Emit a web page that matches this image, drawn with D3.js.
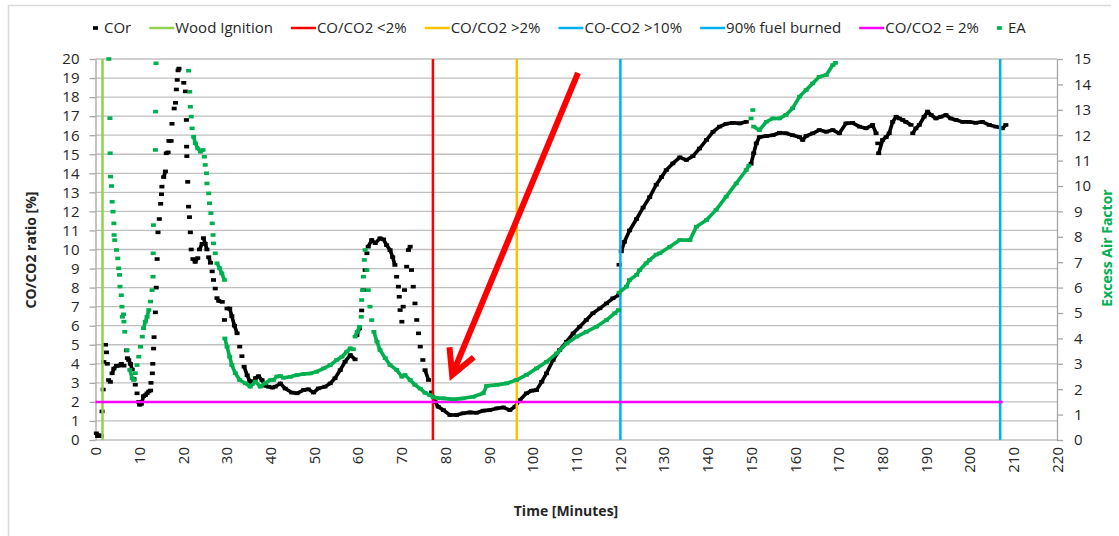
<!DOCTYPE html>
<html>
<head>
<meta charset="utf-8">
<script src="https://cdn.jsdelivr.net/npm/d3@7"></script>
<style>
  body { margin: 0; background: #fff; }
  text { font-family: "Open Sans", "Liberation Sans", sans-serif; }
</style>
</head>
<body>
<div id="chart"></div>
<script>
// COr (CO/CO2 ratio, left axis) as [minutes, percent]
var corData = [
  [0.2,0.35],[0.5,0.2],[0.9,0.25],[1.3,0.2],[1.5,1.5],[1.75,2.65],[1.9,4.1],[2.3,5.0],[2.5,4.6],[2.7,4.0],
  [3.0,3.15],[3.4,3.05],[3.8,3.5],[4.2,3.75],[4.8,3.9],[5.3,3.9],[5.9,4.0],[6.5,3.9],[7.1,4.7],[7.3,4.3],
  [7.6,4.2],[8.0,4.0],[8.4,3.7],[8.8,3.2],[9.1,2.9],[9.5,2.45],[9.9,2.0],[10.1,1.85],[10.5,1.9],[11.0,2.3],
  [11.4,2.35],[11.8,2.45],[12.2,2.55],[12.6,2.6],[12.7,3.0],[13.0,3.5],[13.1,4.0],[13.3,4.8],[13.4,5.4],[13.7,6.7],
  [13.9,8.0],[14.1,9.5],[14.3,10.9],[14.6,11.6],[14.9,12.4],[15.1,12.9],[15.2,13.3],[15.6,13.8],[16.0,14.1],[16.2,15.05],
  [16.6,15.1],[16.8,15.7],[17.3,15.7],[17.5,16.6],[18.0,17.4],[18.3,17.7],[18.5,18.4],[18.7,18.9],[18.9,19.4],[19.1,19.5],
  [20.2,18.75],[20.6,18.3],[20.8,16.8],[20.85,15.4],[20.9,14.9],[21.1,13.55],[21.3,12.25],[21.5,11.7],[21.7,10.9],[21.9,10.0],
  [22.3,9.5],[22.8,9.35],[23.4,9.55],[23.8,10.0],[24.4,10.3],[24.7,10.6],[25.1,10.3],[25.5,10.0],[25.9,9.6],[26.3,9.3],
  [26.7,8.85],[27.0,8.4],[27.4,7.95],[27.8,7.45],[28.2,7.3],[29.0,7.25],[29.5,6.3],[30.1,6.9],[30.7,6.9],[31.2,6.5],
  [31.8,6.0],[32.4,5.6],[33.0,4.9],[33.5,4.4],[34.0,3.85],[34.7,3.4],[35.3,3.1],[35.8,2.95],[36.6,3.25],[37.3,3.35],
  [38.1,3.15],[38.8,2.85],[39.6,2.8],[40.5,2.75],[41.1,2.8],[42.3,2.97],[43.4,2.7],[44.9,2.49],[46.1,2.45],[47.6,2.62],
  [48.7,2.66],[49.9,2.49],[51.0,2.71],[52.5,2.8],[53.7,2.97],[54.8,3.24],[56.0,3.67],[57.1,4.11],[58.3,4.46],[59.4,4.23],
  [59.8,5.5],[60.4,5.86],[60.9,6.8],[61.3,7.87],[61.7,8.92],[62.1,9.8],[62.4,10.15],[63.2,10.5],[64.0,10.33],[65.1,10.59],
  [65.9,10.53],[66.6,10.23],[67.4,9.97],[68.0,9.6],[68.5,9.19],[68.9,8.57],[69.3,8.05],[69.5,7.52],[69.7,6.82],[70.1,6.21],
  [70.4,7.0],[70.7,7.87],[71.2,9.1],[71.6,9.97],[72.0,10.15],[72.3,8.92],[72.7,8.05],[73.1,7.17],[73.5,6.3],[73.9,5.6],
  [74.3,4.9],[74.9,4.2],[75.4,3.67],[76.2,3.15],[76.9,2.5],[77.7,2.0],[78.4,1.75],[79.6,1.57],[81.1,1.31],[82.6,1.31],
  [84.1,1.4],[85.7,1.45],[87.2,1.43],[88.7,1.54],[90.2,1.57],[91.8,1.66],[93.3,1.71],[94.8,1.57],[96.0,1.75],[97.1,2.1],
  [98.6,2.45],[99.8,2.59],[100.9,2.62],[102.1,3.06],[103.2,3.5],[104.7,4.2],[106.2,4.72],[107.8,5.16],[109.3,5.6],[110.8,5.95],
  [112.3,6.3],[113.8,6.65],[115.4,6.91],[116.9,7.17],[118.4,7.44],[119.7,7.6],
  [119.8,9.2],[120.3,9.9],[121.0,10.4],[122.2,11.0],[123.8,11.6],[125.3,12.2],[126.8,12.75],[128.3,13.4],[129.5,13.8],[130.6,14.17],
  [132.1,14.52],[133.7,14.84],[135.2,14.7],[136.7,14.9],[138.2,15.3],[139.8,15.75],[141.3,16.18],[142.8,16.45],[144.3,16.6],[145.8,16.65],
  [147.4,16.62],[148.9,16.7],
  [150.0,14.5],[150.6,15.05],[151.2,15.57],[151.9,15.9],[153.5,15.96],[155.0,16.0],[156.5,16.13],[158.0,16.1],[159.5,16.0],[161.1,15.9],
  [161.8,15.75],[162.6,15.96],[164.1,16.1],[165.6,16.27],[167.2,16.18],[168.7,16.27],[170.2,16.1],[171.7,16.62],[173.2,16.65],[174.8,16.45],
  [176.3,16.36],[177.8,16.54],[178.6,16.1],[179.0,15.57],[179.2,15.05],[180.1,15.75],[180.9,15.9],[181.6,16.1],[182.4,16.7],[183.2,16.97],
  [183.9,16.88],[184.7,16.8],[185.4,16.7],[186.6,16.54],[187.0,16.1],[187.7,16.36],[188.5,16.54],[189.6,16.97],[190.4,17.24],[191.2,17.06],
  [192.3,16.88],[193.4,16.97],[194.6,17.06],[195.7,16.88],[196.9,16.8],[198.4,16.7],[199.9,16.7],[201.4,16.65],[202.9,16.7],[204.5,16.54],
  [206.0,16.45],[207.5,16.36],[208.3,16.54]
];

// EA (excess air factor, right axis) as [minutes, factor]
var eaData = [
  [3.05,15.0],[3.3,12.67],[3.35,11.29],[3.45,10.37],[3.66,10.0],[3.8,9.38],[4.0,8.99],[4.2,8.53],[4.25,8.07],[4.4,7.87],
  [4.8,7.48],[5.1,7.15],[5.3,6.76],[5.5,6.5],[5.6,6.04],[5.9,5.7],[6.05,5.25],[6.15,4.85],[6.4,4.95],[6.5,4.66],
  [6.7,4.26],[7.2,3.54],[7.85,2.76],[8.4,2.43],[8.75,2.36],[9.1,2.63],[9.5,2.95],[9.9,3.28],[10.3,3.67],[10.7,4.07],
  [11.0,4.4],[11.4,4.66],[11.8,4.85],[12.2,5.12],[12.6,5.45],[12.95,5.9],[13.15,6.43],[13.2,7.35],[13.25,8.46],[13.7,11.42],
  [13.75,12.93],[13.85,14.83],
  [21.3,14.54],[21.55,13.71],[21.7,13.12],[21.9,12.73],[22.1,12.27],[22.45,11.94],[22.85,11.68],[23.4,11.48],[24.0,11.35],[24.6,11.42],
  [24.9,11.15],[25.1,10.83],[25.4,10.5],[25.5,10.1],[25.9,9.71],[26.1,9.32],[26.4,8.93],[26.7,8.53],[26.9,8.07],[27.0,7.74],
  [27.4,7.35],[27.8,6.96],[28.4,6.76],[28.9,6.56],[29.5,6.3],
  [29.6,4.0],[30.1,3.67],[30.7,3.28],[31.2,2.95],[32.0,2.63],[33.0,2.36],[34.3,2.23],[35.4,2.1],[36.6,2.3],[37.7,2.1],
  [38.8,2.23],[40.0,2.36],[40.7,2.36],[41.5,2.5],[42.3,2.52],[43.0,2.45],[44.6,2.49],[46.1,2.56],[47.6,2.6],[49.1,2.62],
  [50.6,2.69],[52.2,2.82],[53.7,2.95],[55.2,3.15],[56.4,3.28],[57.5,3.48],[58.3,3.61],[59.0,3.57],[59.4,4.07],[59.9,4.26],
  [60.4,4.46],[60.8,4.85],[60.9,5.51],[61.1,5.9],[61.3,6.43],[61.5,7.09],[61.7,7.48],[62.1,6.69],[62.4,5.9],[62.8,5.25],
  [63.2,4.72],[63.7,4.26],[64.4,3.87],[65.1,3.54],[66.3,3.22],[67.4,2.95],[68.9,2.76],[70.1,2.49],[70.8,2.56],[72.0,2.36],
  [73.1,2.17],[74.3,2.02],[75.4,1.86],[76.5,1.77],[77.3,1.68],[78.1,1.66],[79.6,1.64],[81.9,1.6],[84.1,1.64],[86.4,1.7],
  [88.7,1.84],[89.5,2.13],[91.8,2.17],[94.1,2.23],[96.3,2.36],[98.6,2.56],[100.9,2.82],[103.2,3.08],[105.5,3.41],[107.8,3.8],
  [110.1,4.07],[112.3,4.26],[114.6,4.46],[116.9,4.72],[118.8,4.99],[119.7,5.12],
  [119.8,5.8],[121.5,6.04],[122.2,6.3],[123.8,6.5],[124.5,6.69],[126.0,6.96],[126.8,7.09],[128.3,7.3],[129.1,7.35],[131.4,7.61],
  [133.7,7.87],[136.0,7.87],[137.5,8.4],[139.8,8.66],[142.0,9.06],[144.3,9.58],[146.6,10.1],[148.9,10.63],[149.5,10.8],
  [150.0,12.66],[150.4,12.99],[150.6,12.34],[151.9,12.2],[153.5,12.53],[155.0,12.66],[156.5,12.66],[158.0,12.8],[159.5,13.06],[161.1,13.52],
  [162.6,13.78],[164.1,14.04],[165.6,14.3],[167.2,14.37],[168.7,14.76],[169.3,14.85]
];

// event lines (minutes) and the 2% threshold
var eventNames = ["Wood Ignition", "CO/CO2 <2%", "CO/CO2 >2%", "CO-CO2 >10%", "90% fuel burned"];
var eventTimes = [1.6, 77.2, 96.4, 120.1, 207.0];
var thresholdValue = 2;
var thresholdSpan = [0, 207.6];

// annotation arrow: [minutes, percent] tail and tip
var arrowTail = [110.4, 19.27];
var arrowTip = [81.6, 3.41];

var xTicks = [0,10,20,30,40,50,60,70,80,90,100,110,120,130,140,150,160,170,180,190,200,210,220];
var leftTicks = [0,1,2,3,4,5,6,7,8,9,10,11,12,13,14,15,16,17,18,19,20];
var rightTicks = [0,1,2,3,4,5,6,7,8,9,10,11,12,13,14,15];

var legendNames = ["COr", "Wood Ignition", "CO/CO2 <2%", "CO/CO2 >2%", "CO-CO2 >10%", "90% fuel burned", "CO/CO2 = 2%", "EA"];

var eventColors = ["#92d050", "#ff0000", "#ffc000", "#00b0f0", "#00b0f0"];
var legendColors = ["#000000", "#92d050", "#ff0000", "#ffc000", "#00b0f0", "#00b0f0", "#ff00ff", "#00b050"];
var legendKinds = ["marker", "line", "line", "line", "line", "line", "line", "marker"];

var svg = d3.select("#chart").append("svg").attr("width", 1119).attr("height", 536);

var x = d3.scaleLinear().domain([0, 220]).range([95.5, 1057]);
var yL = d3.scaleLinear().domain([0, 20]).range([440, 59]);
var yR = d3.scaleLinear().domain([0, 15]).range([440, 59]);

// outer frame
svg.append("path").attr("d", "M8.5,540V5.5H1111").attr("fill", "none").attr("stroke", "#d9d9d9").attr("stroke-width", 1.5);

// gridlines
svg.append("g").selectAll("line").data(leftTicks).enter().append("line")
    .attr("x1", x(0)).attr("x2", x(220))
    .attr("y1", d => yL(d)).attr("y2", d => yL(d))
    .attr("stroke", "#bfbfbf").attr("stroke-width", 1.3);

// axes
function styleAxis(g) {
    g.select(".domain").attr("stroke", "#a6a6a6").attr("stroke-width", 1.3);
    g.selectAll(".tick line").attr("stroke", "#a6a6a6").attr("stroke-width", 1.3);
    g.selectAll("text").attr("fill", "#262626").style("font-size", "15px");
}

svg.append("g").attr("transform", "translate(" + x(0) + ",0)")
    .call(d3.axisLeft(yL).tickValues(leftTicks).tickSize(6).tickPadding(10).tickSizeOuter(0))
    .call(styleAxis);

svg.append("g").attr("transform", "translate(" + x(220) + ",0)")
    .call(d3.axisRight(yR).tickValues(rightTicks).tickSize(6).tickPadding(11).tickSizeOuter(0))
    .call(styleAxis);

var xAxis = svg.append("g").attr("transform", "translate(0," + yL(0) + ")")
    .call(d3.axisBottom(x).tickValues(xTicks).tickSize(0).tickSizeOuter(0))
    .call(styleAxis);
xAxis.select(".domain").remove();
xAxis.selectAll("text")
    .attr("transform", "rotate(-90)")
    .attr("x", -7).attr("y", 0).attr("dy", "0.35em")
    .attr("text-anchor", "end");

// split a series into runs that read as a continuous trace
function runs(data, y) {
    var out = [], cur = [data[0]];
    for (var i = 1; i < data.length; i++) {
        var a = data[i - 1], b = data[i];
        var dx = Math.abs(x(b[0]) - x(a[0])), dy = Math.abs(y(b[1]) - y(a[1]));
        if (b[0] - a[0] < 2.5 && dy <= 4 * Math.max(dx, 0.5) && dy < 14) cur.push(b);
        else { out.push(cur); cur = [b]; }
    }
    out.push(cur);
    return out.filter(r => r.length > 1);
}

function drawSeries(data, y, color) {
    var g = svg.append("g");
    var line = d3.line().x(d => x(d[0])).y(d => y(d[1]));
    g.selectAll("path").data(runs(data, y)).enter().append("path")
        .attr("d", line).attr("fill", "none").attr("stroke", color)
        .attr("stroke-width", 3.6).attr("stroke-linejoin", "round");
    g.selectAll("rect").data(data).enter().append("rect")
        .attr("x", d => x(d[0]) - 2.5).attr("y", d => y(d[1]) - 1.8)
        .attr("width", 5).attr("height", 3.6).attr("fill", color);
}

drawSeries(corData, yL, "#000000");

// event lines
svg.append("g").selectAll("line").data(eventTimes).enter().append("line")
    .attr("x1", d => x(d)).attr("x2", d => x(d))
    .attr("y1", yL(0)).attr("y2", yL(20))
    .attr("stroke", (d, i) => eventColors[i]).attr("stroke-width", 2.5);

// 2% threshold
svg.append("line")
    .attr("x1", x(thresholdSpan[0])).attr("x2", x(thresholdSpan[1]))
    .attr("y1", yL(thresholdValue)).attr("y2", yL(thresholdValue))
    .attr("stroke", "#ff00ff").attr("stroke-width", 2.5);

drawSeries(eaData, yR, "#00b050");

// arrow annotation
var tx = x(arrowTail[0]), ty = yL(arrowTail[1]), hx = x(arrowTip[0]), hy = yL(arrowTip[1]);
var ang = Math.atan2(ty - hy, tx - hx), wing = 28, spread = 28 * Math.PI / 180;
var w1 = [hx + wing * Math.cos(ang - spread), hy + wing * Math.sin(ang - spread)];
var w2 = [hx + wing * Math.cos(ang + spread), hy + wing * Math.sin(ang + spread)];
svg.append("line").attr("x1", tx).attr("y1", ty).attr("x2", hx + 2 * Math.cos(ang)).attr("y2", hy + 2 * Math.sin(ang))
    .attr("stroke", "#ff0000").attr("stroke-width", 6);
svg.append("path").attr("d", "M" + w1 + "L" + hx + "," + hy + "L" + w2)
    .attr("fill", "none").attr("stroke", "#ff0000").attr("stroke-width", 6).attr("stroke-linejoin", "miter");

// axis titles
svg.append("text").attr("transform", "translate(31,250) rotate(-90)")
    .attr("text-anchor", "middle").attr("dy", "0.35em")
    .style("font-size", "14px").style("font-weight", "bold").attr("fill", "#262626")
    .text("CO/CO2 ratio [%]");
svg.append("text").attr("transform", "translate(1107,248) rotate(-90)")
    .attr("text-anchor", "middle").attr("dy", "0.35em")
    .style("font-size", "14px").style("font-weight", "bold").attr("fill", "#00b050")
    .text("Excess Air Factor");
svg.append("text").attr("x", 566).attr("y", 511)
    .attr("text-anchor", "middle").attr("dy", "0.35em")
    .style("font-size", "14px").style("font-weight", "bold").attr("fill", "#262626")
    .text("Time [Minutes]");

// legend
var legend = svg.append("g");
var cx = 93, ly = 28;
legendNames.forEach(function(name, i) {
    var textX;
    if (legendKinds[i] === "marker") {
        legend.append("rect").attr("x", cx).attr("y", ly - 1.8).attr("width", 5).attr("height", 3.6).attr("fill", legendColors[i]);
        textX = cx + 11;
    } else {
        legend.append("line").attr("x1", cx).attr("x2", cx + 25).attr("y1", ly).attr("y2", ly)
            .attr("stroke", legendColors[i]).attr("stroke-width", 2.5);
        textX = cx + 26;
    }
    var t = legend.append("text").attr("x", textX).attr("y", ly).attr("dy", "0.35em")
        .style("font-size", "15px").attr("fill", "#262626").text(name);
    cx = textX + t.node().getComputedTextLength() + 18;
});
</script>
</body>
</html>
